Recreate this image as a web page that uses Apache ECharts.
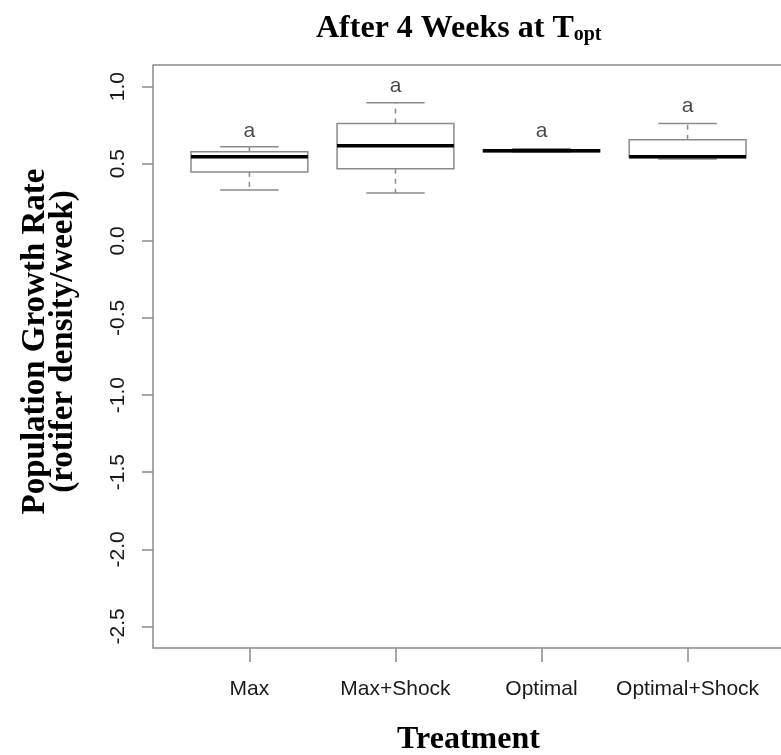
<!DOCTYPE html>
<html>
<head>
<meta charset="utf-8">
<script src="https://cdn.jsdelivr.net/npm/echarts@6/dist/echarts.min.js"></script>
<style>
  html, body { margin: 0; padding: 0; background: #fff; }
  #chart { width: 781px; height: 755px; }
</style>
</head>
<body>
<div id="chart"></div>
<script>
// 各处理组名称
const categories = ['Max', 'Max+Shock', 'Optimal', 'Optimal+Shock'];
// 箱线图五数
const whiskerLow = [0.33, 0.31, 0.575, 0.53];
const q1 = [0.447, 0.467, 0.578, 0.54];
const median = [0.545, 0.616, 0.584, 0.545];
const q3 = [0.577, 0.76, 0.59, 0.655];
const whiskerHigh = [0.61, 0.896, 0.597, 0.76];
// 显著性字母及其位置
const letters = ['a', 'a', 'a', 'a'];
const letterY = [0.71, 1.0, 0.71, 0.87];
// 纵轴刻度
const yTicks = [-2.5, -2.0, -1.5, -1.0, -0.5, 0.0, 0.5, 1.0];

const boxData = categories.map((c, i) => [i + 1, whiskerLow[i], q1[i], median[i], q3[i], whiskerHigh[i]]);
const letterData = categories.map((c, i) => [i + 1, letterY[i]]);

const grey = '#8a8a8a';
const tickFont = { fontFamily: 'Liberation Sans', fontSize: 21, color: '#1a1a1a' };
const titleFont = { fontFamily: 'Liberation Serif', fontWeight: 'bold', color: '#000' };

const renderBox = (params, api) => {
  const x = api.value(0);
  const lo = api.value(1), b1 = api.value(2), med = api.value(3), b3 = api.value(4), hi = api.value(5);
  const half = 0.4, cap = 0.2;
  const tl = api.coord([x - half, b3]);
  const br = api.coord([x + half, b1]);
  const line = (x1, y1, x2, y2, style) => ({
    type: 'line',
    shape: { x1, y1, x2, y2 },
    style
  });
  const solid = { stroke: grey, lineWidth: 1.5 };
  const dashed = { stroke: grey, lineWidth: 1.5, lineDash: [5, 5] };
  const pLo = api.coord([x, lo]), pHi = api.coord([x, hi]);
  const pQ1 = api.coord([x, b1]), pQ3 = api.coord([x, b3]);
  const capL = api.coord([x - cap, 0])[0], capR = api.coord([x + cap, 0])[0];
  const mL = api.coord([x - half, med]), mR = api.coord([x + half, med]);
  return {
    type: 'group',
    children: [
      line(pQ3[0], pQ3[1], pHi[0], pHi[1], dashed),
      line(pQ1[0], pQ1[1], pLo[0], pLo[1], dashed),
      line(capL, pHi[1], capR, pHi[1], solid),
      line(capL, pLo[1], capR, pLo[1], solid),
      {
        type: 'rect',
        shape: { x: tl[0], y: tl[1], width: br[0] - tl[0], height: br[1] - tl[1] },
        style: { fill: '#fff', stroke: grey, lineWidth: 1.5 }
      },
      line(mL[0], mL[1], mR[0], mR[1], { stroke: '#000', lineWidth: 3.5 })
    ]
  };
};

const chart = echarts.init(document.getElementById('chart'));
chart.setOption({
  animation: false,
  title: {
    left: 311,
    top: 7,
    text: '{a|After 4 Weeks at T}{b|opt}',
    textStyle: {
      rich: {
        a: { ...titleFont, fontSize: 32 },
        b: { ...titleFont, fontSize: 20, verticalAlign: 'bottom', padding: [13, 0, 0, 0] }
      }
    }
  },
  grid: {
    left: 153,
    top: 65,
    right: -3,
    bottom: 107,
    outerBoundsMode: 'none',
    containLabel: false,
    show: true,
    borderColor: grey,
    borderWidth: 1.5
  },
  xAxis: {
    type: 'value',
    min: 0.34,
    max: 4.66,
    name: 'Treatment',
    nameLocation: 'middle',
    nameGap: 76,
    nameTextStyle: { ...titleFont, fontSize: 32 },
    axisLine: { show: false, onZero: false },
    splitLine: { show: false },
    axisTick: { show: true, length: 14, customValues: [1, 2, 3, 4], lineStyle: { color: grey, width: 1.5 } },
    axisLabel: {
      ...tickFont,
      margin: 31,
      customValues: [1, 2, 3, 4],
      formatter: v => categories[Math.round(v) - 1]
    }
  },
  yAxis: {
    type: 'value',
    min: -2.64,
    max: 1.14,
    name: 'Population Growth Rate\n(rotifer density/week)',
    nameLocation: 'middle',
    nameRotate: 90,
    nameGap: 76,
    nameTextStyle: { ...titleFont, fontSize: 33, lineHeight: 28, padding: [0, 0, 0, 30] },
    axisLine: { show: false, onZero: false },
    splitLine: { show: false },
    axisTick: { show: true, length: 11, customValues: yTicks, lineStyle: { color: grey, width: 1.5 } },
    axisLabel: {
      ...tickFont,
      rotate: 90,
      margin: 24,
      customValues: yTicks,
      formatter: v => v.toFixed(1)
    }
  },
  series: [
    {
      type: 'custom',
      renderItem: renderBox,
      data: boxData,
      encode: { x: 0, y: [1, 2, 3, 4, 5] },
      z: 2
    },
    {
      type: 'scatter',
      data: letterData,
      symbolSize: 0,
      label: {
        show: true,
        position: 'inside',
        formatter: p => letters[p.dataIndex],
        ...tickFont
      },
      z: 3
    }
  ]
});
window.addEventListener('resize', () => chart.resize());
</script>
</body>
</html>
